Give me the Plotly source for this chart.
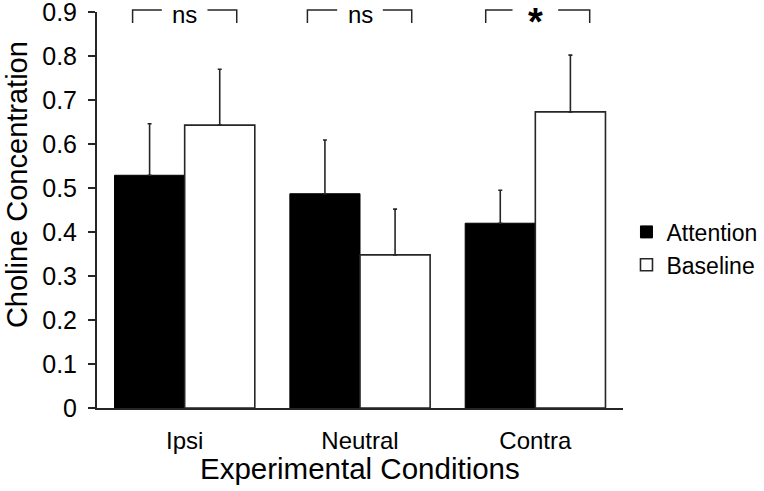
import plotly.graph_objects as go

categories = ["Ipsi", "Neutral", "Contra"]
attention = [0.529, 0.487, 0.420]
attention_err = [0.117, 0.122, 0.075]
baseline = [0.643, 0.348, 0.673]
baseline_err = [0.127, 0.104, 0.129]
sig_labels = ["ns", "ns", "*"]
y_ticks = [0, 0.1, 0.2, 0.3, 0.4, 0.5, 0.6, 0.7, 0.8, 0.9]
y_tick_text = ["0", "0.1", "0.2", "0.3", "0.4", "0.5", "0.6", "0.7", "0.8", "0.9"]
x_title = "Experimental Conditions"
y_title = "Choline Concentration"

FONT = "Liberation Sans, Arial, sans-serif"
LINE = "#262626"

fig = go.Figure()
fig.add_trace(go.Bar(
    name="Attention", x=categories, y=attention,
    marker=dict(color="black", line=dict(color="black", width=1)),
    error_y=dict(type="data", symmetric=False, array=attention_err,
                 arrayminus=[0, 0, 0], color=LINE, thickness=1.6, width=2),
))
fig.add_trace(go.Bar(
    name="Baseline", x=categories, y=baseline,
    marker=dict(color="white", line=dict(color=LINE, width=1.6)),
    error_y=dict(type="data", symmetric=False, array=baseline_err,
                 arrayminus=[0, 0, 0], color=LINE, thickness=1.6, width=2),
))

# significance brackets
bracket_ext = [(-0.297, 0.297), (-0.30, 0.295), (-0.283, 0.31)]
gap_half = 0.13
y_top = 1.005
y_bot = 0.972
for i, (lab, (a, b)) in enumerate(zip(sig_labels, bracket_ext)):
    fig.add_shape(type="path", xref="x", yref="paper",
                  path=f"M {i + a},{y_bot} L {i + a},{y_top} L {i - gap_half},{y_top}",
                  line=dict(color=LINE, width=1.5))
    fig.add_shape(type="path", xref="x", yref="paper",
                  path=f"M {i + gap_half},{y_top} L {i + b},{y_top} L {i + b},{y_bot}",
                  line=dict(color=LINE, width=1.5))
    if lab == "*":
        fig.add_annotation(x=i, y=1.0303, xref="x", yref="paper", text="<b>*</b>",
                           showarrow=False, font=dict(size=38, color="black", family=FONT),
                           yanchor="top", borderpad=0)
    else:
        fig.add_annotation(x=i, y=1.0303, xref="x", yref="paper", text=lab,
                           showarrow=False, font=dict(size=24, color="black", family=FONT),
                           yanchor="top", borderpad=0)

# axis titles
fig.add_annotation(x=0.5, y=-0.153, xref="paper", yref="paper", text=x_title,
                   showarrow=False, font=dict(size=29.5, color="black", family=FONT),
                   xanchor="center", yanchor="middle")
fig.add_annotation(x=-0.152, y=0.563, xref="paper", yref="paper", text=y_title,
                   showarrow=False, textangle=-90,
                   font=dict(size=29, color="black", family=FONT),
                   xanchor="center", yanchor="middle")

fig.update_layout(
    width=764, height=491,
    margin=dict(l=97, r=141, t=12, b=83, autoexpand=False),
    paper_bgcolor="white", plot_bgcolor="white",
    barmode="group", bargap=0.2, bargroupgap=0,
    font=dict(family=FONT, color="black", size=24),
    showlegend=True,
    legend=dict(x=0.82, y=0.494, xref="container", yref="container",
                xanchor="left", yanchor="middle",
                font=dict(size=23, color="black"), itemwidth=30,
                bgcolor="rgba(0,0,0,0)", tracegroupgap=0),
    xaxis=dict(
        showline=True, linecolor=LINE, linewidth=2, ticks="",
        showgrid=False, tickfont=dict(size=24), automargin=False,
        ticklabelstandoff=10,
    ),
    yaxis=dict(
        range=[0, 0.9001], tickvals=y_ticks, ticktext=y_tick_text,
        showline=True, linecolor=LINE, linewidth=2, ticks="outside", ticklen=7,
        tickwidth=2, tickcolor=LINE, showgrid=False, zeroline=False,
        tickfont=dict(size=25), automargin=False, ticklabeloverflow="allow",
        ticklabelstandoff=6,
    ),
)

fig.write_html("out.html", config={"displayModeBar": False},
               post_script="document.body.style.margin='0px';")
